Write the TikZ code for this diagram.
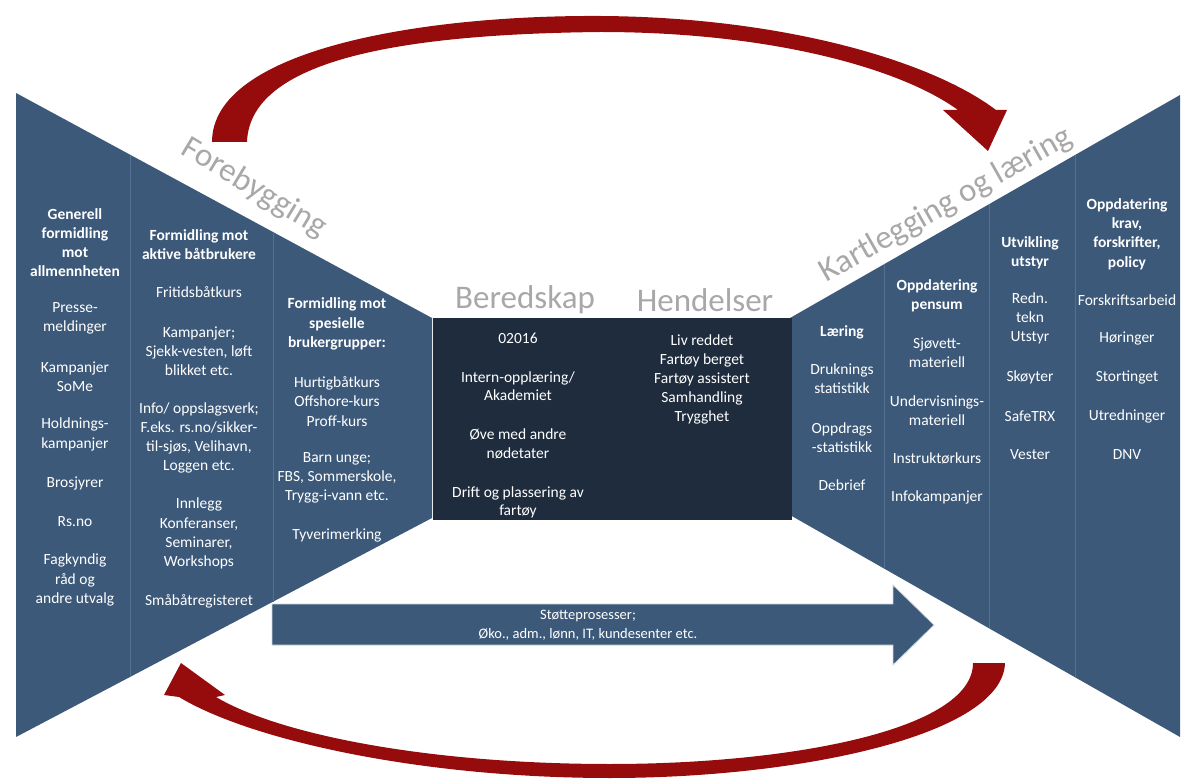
\documentclass[tikz,border=0pt]{standalone}
\usepackage{fontspec}
\setmainfont{Carlito}
\usetikzlibrary{calc}
\definecolor{wing}{RGB}{60,89,122}
\definecolor{boxc}{RGB}{30,44,62}
\definecolor{divc}{RGB}{84,113,148}
\definecolor{arrowred}{RGB}{150,12,12}
\definecolor{lbl}{RGB}{168,168,168}
\begin{document}
\begin{tikzpicture}[x=1pt,y=-1pt,
  txt/.style={text=white,align=center,inner sep=0pt,font=\fontsize{15.5}{19.2}\selectfont},
  hdr/.style={txt,font=\fontsize{15.5}{19.2}\selectfont\bfseries},
  big/.style={text=lbl,inner sep=0pt,font=\fontsize{33}{36}\selectfont},
  divider/.style={draw=divc,line width=0.8pt},
  redarc/.style={fill=arrowred}]
\useasboundingbox (0,0) rectangle (1189,783);
% wing corners
\coordinate (LT) at (16,93);
\coordinate (LB) at (16,737);
\coordinate (LTip) at (432,318);
\coordinate (LBip) at (432,518);
\coordinate (RT) at (1180,95);
\coordinate (RB) at (1180,737);
\coordinate (RTip) at (790,318);
\coordinate (RBip) at (790,515);
% wings
\fill[wing] (LT) -- (LTip) -- (LBip) -- (LB) -- cycle;
\fill[wing] (RT) -- (RTip) -- (RBip) -- (RB) -- cycle;
% dividers left
\draw[divider] ($(LT)!{(130-16)/416}!(LTip)$) -- ($(LB)!{(130-16)/416}!(LBip)$);
\draw[divider] ($(LT)!{(273-16)/416}!(LTip)$) -- ($(LB)!{(273-16)/416}!(LBip)$);
% dividers right
\draw[divider] ($(RTip)!{(884-790)/390}!(RT)$) -- ($(RBip)!{(884-790)/390}!(RB)$);
\draw[divider] ($(RTip)!{(989-790)/390}!(RT)$) -- ($(RBip)!{(989-790)/390}!(RB)$);
\draw[divider] ($(RTip)!{(1075-790)/390}!(RT)$) -- ($(RBip)!{(1075-790)/390}!(RB)$);
% central box
\fill[boxc] (433,318) rectangle (792,520);
% support arrow
\coordinate (SA1) at (272,604);
\coordinate (SA2) at (893,604);
\coordinate (SA3) at (893,585);
\coordinate (SA4) at (934,625);
\coordinate (SA5) at (893,665);
\coordinate (SA6) at (893,645);
\coordinate (SA7) at (272,645);
\filldraw[fill=wing,draw=white!75!wing,line width=0.8pt] (SA1) -- (SA2) -- (SA3) -- (SA4) -- (SA5) -- (SA6) -- (SA7) -- cycle;
\node[txt,font=\fontsize{14.5}{19}\selectfont] (stotte) at (588,625) {Støtteprosesser;\\Øko., adm., lønn, IT, kundesenter etc.};
% top red arc
\fill[redarc] (212,142) .. controls (212,50) and (420,15) .. (600,16)
  .. controls (780,17) and (930,60) .. (996,110)
  -- (1007,110) -- (988,151) -- (943,110) -- (958,110)
  .. controls (900,68) and (770,32) .. (600,32)
  .. controls (420,34) and (250,55) .. (247,142) -- cycle;
% bottom red arc
\fill[redarc] (1005,663) .. controls (1003,735) and (800,778) .. (610,778)
  .. controls (420,778) and (250,740) .. (179,697)
  -- (164,695) -- (181,663) -- (225,695) -- (216,697)
  .. controls (280,735) and (430,764) .. (610,764)
  .. controls (790,764) and (973,730) .. (973,663) -- cycle;
% big labels
\node[big,rotate=-31] (fore) at (254,188) {Forebygging};
\node[big,rotate=29.5] (kart) at (946,205) {Kartlegging og læring};
\node[big] (bered) at (525,300) {Beredskap};
\node[big] (hend) at (705,300) {Hendelser};
% left column 1
\node[hdr] (c1h) at (75,242.5) {Generell\\formidling\\mot\\allmennheten};
\node[txt] (c1a) at (75,318.5) {Presse-\\meldinger};
\node[txt] (c1b) at (75,377) {Kampanjer\\SoMe};
\node[txt] (c1c) at (75,434.5) {Holdnings-\\kampanjer};
\node[txt] (c1d) at (75,483) {Brosjyrer};
\node[txt] (c1e) at (75,522) {Rs.no};
\node[txt] (c1f) at (75,580) {Fagkyndig\\råd og\\andre utvalg};
% left column 2
\node[hdr] (c2h) at (199,244.5) {Formidling mot\\aktive båtbrukere};
\node[txt] (c2a) at (199,292) {Fritidsbåtkurs};
\node[txt] (c2b) at (199,351) {Kampanjer;\\Sjekk-vesten, løft\\blikket etc.};
\node[txt] (c2c) at (199,438) {Info/ oppslagsverk;\\F.eks. rs.no/sikker-\\til-sjøs, Velihavn,\\Loggen etc.};
\node[txt] (c2d) at (199,533.5) {Innlegg\\Konferanser,\\Seminarer,\\Workshops};
\node[txt] (c2e) at (199,601) {Småbåtregisteret};
% left column 3
\node[hdr] (c3h) at (337,324) {Formidling mot\\spesielle\\brukergrupper:};
\node[txt] (c3a) at (337,401.5) {Hurtigbåtkurs\\Offshore-kurs\\Proff-kurs};
\node[txt] (c3b) at (337,478) {Barn unge;\\FBS, Sommerskole,\\Trygg-i-vann etc.};
\node[txt] (c3c) at (337,535) {Tyverimerking};
% central box, left
\node[txt] (b1) at (518,338) {02016};
\node[txt,font=\fontsize{15.5}{18}\selectfont] (b2) at (518,386.5) {Intern-opplæring/\\Akademiet};
\node[txt] (b3) at (518,443.5) {Øve med andre\\nødetater};
\node[txt,font=\fontsize{15.5}{18}\selectfont] (b4) at (518,502) {Drift og plassering av\\fartøy};
% central box, right
\node[txt,font=\fontsize{15.5}{18.8}\selectfont] (h1) at (702,379.5) {Liv reddet\\Fartøy berget\\Fartøy assistert\\Samhandling\\Trygghet};
% right column A
\node[hdr] (rah) at (842,332) {Læring};
\node[txt] (ra1) at (842,379) {Druknings\\statistikk};
\node[txt] (ra2) at (842,437.5) {Oppdrags\\-statistikk};
\node[txt] (ra3) at (842,485) {Debrief};
% right column B
\node[hdr] (rbh) at (937,296) {Oppdatering\\pensum};
\node[txt] (rb1) at (937,352.5) {Sjøvett-\\materiell};
\node[txt] (rb2) at (937,411) {Undervisnings-\\materiell};
\node[txt] (rb3) at (937,458) {Instruktørkurs};
\node[txt] (rb4) at (937,497) {Infokampanjer};
% right column C
\node[hdr] (rch) at (1030,253) {Utvikling\\utstyr};
\node[txt] (rc1) at (1030,318.5) {Redn.\\tekn\\Utstyr};
\node[txt] (rc2) at (1030,377) {Skøyter};
\node[txt] (rc3) at (1030,416) {SafeTRX};
\node[txt] (rc4) at (1030,455) {Vester};
% right column D
\node[hdr] (rdh) at (1127,234) {Oppdatering\\krav,\\forskrifter,\\policy};
\node[txt] (rd1) at (1127,300) {Forskriftsarbeid};
\node[txt] (rd2) at (1127,339) {Høringer};
\node[txt] (rd3) at (1127,377) {Stortinget};
\node[txt] (rd4) at (1127,416) {Utredninger};
\node[txt] (rd5) at (1127,455) {DNV};
\end{tikzpicture}
\end{document}
